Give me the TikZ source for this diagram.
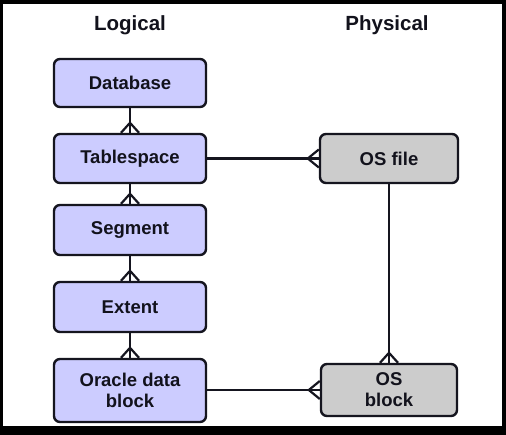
\documentclass[tikz,border=0pt]{standalone}
\usepackage{fontspec}
\setmainfont{Liberation Sans}
\usetikzlibrary{calc}
\definecolor{logfill}{HTML}{CCCCFF}
\definecolor{physfill}{HTML}{CCCCCC}
\definecolor{edge}{HTML}{15151F}
\definecolor{txt}{HTML}{12121C}
\tikzset{
  box/.style={draw=edge, line width=2.4pt, rounded corners=6pt, inner sep=0pt,
    align=center, text=txt, font=\fontsize{18.5}{21}\selectfont\bfseries},
  logbox/.style={box, fill=logfill, minimum width=152pt},
  physbox/.style={box, fill=physfill},
  head/.style={text=txt, font=\fontsize{20.5}{24}\selectfont\bfseries},
  conn/.style={draw=edge, line width=2.2pt}
}
\begin{document}
\begin{tikzpicture}[x=1pt,y=-1pt]
\useasboundingbox (0,0) rectangle (506,435);
\fill[black] (0,0) rectangle (506,435);
\fill[white] (3,4) rectangle (502,426);

\node[head] (hlog) at (130,25) {Logical};
\node[head] (hphys) at (387,25) {Physical};

\node[logbox, minimum height=48pt] (db) at (130,83) {Database};
\node[logbox, minimum height=49pt] (ts) at (130,158.5) {Tablespace};
\node[logbox, minimum height=50pt] (seg) at (130,230) {Segment};
\node[logbox, minimum height=50pt] (ext) at (130,307) {Extent};
\node[logbox, minimum height=63pt] (odb) at (130,390.5) {Oracle data\\block};
\node[physbox, minimum width=138pt, minimum height=49pt] (osf) at (389,158.5) {OS file};
\node[physbox, minimum width=136pt, minimum height=52pt] (osb) at (389,390) {OS\\block};

% vertical one-to-many connectors
\foreach \a/\b in {db/ts, ts/seg, seg/ext, ext/odb}{
  \draw[conn] (\a.south) -- (\b.north);
  \draw[conn] ($(\b.north)+(-9,0)$) -- ($(\b.north)+(0,-10)$) -- ($(\b.north)+(9,0)$);
}
\draw[conn] (osf.south) -- (osb.north);
\draw[conn] ($(osb.north)+(-9,0)$) -- ($(osb.north)+(0,-10)$) -- ($(osb.north)+(9,0)$);

% horizontal connectors
\draw[conn] (ts.east) -- (osf.west);
\draw[conn] ($(osf.west)+(0,-9)$) -- ($(osf.west)+(-11,0)$) -- ($(osf.west)+(0,9)$);
\draw[conn] (odb.east |- osb.west) -- (osb.west);
\draw[conn] ($(osb.west)+(0,-9)$) -- ($(osb.west)+(-11,0)$) -- ($(osb.west)+(0,9)$);
\end{tikzpicture}
\end{document}
